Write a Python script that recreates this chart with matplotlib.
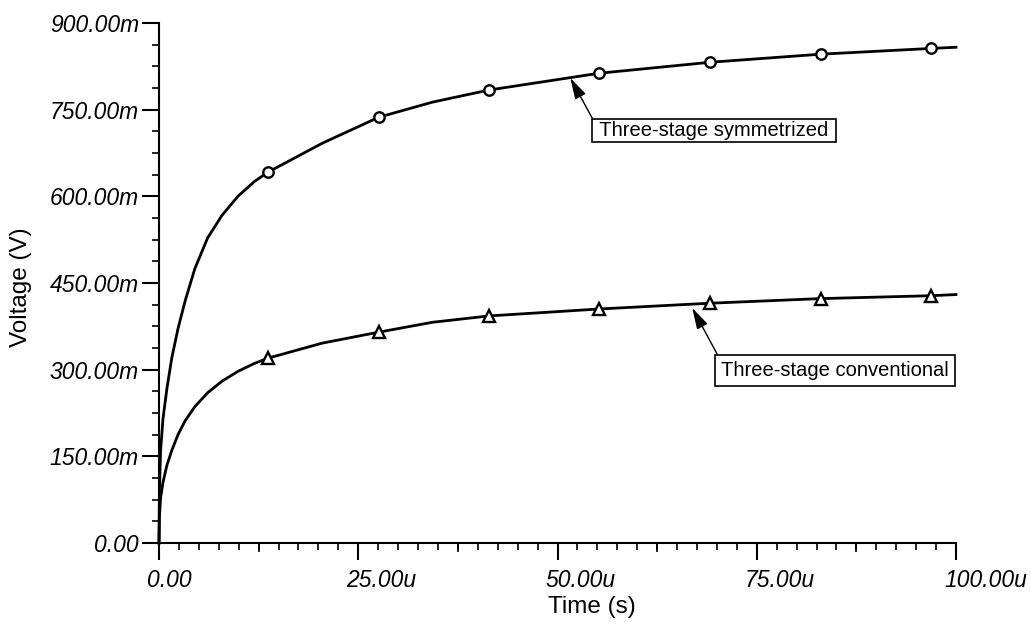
import matplotlib
matplotlib.use("Agg")
import matplotlib.pyplot as plt
from matplotlib.ticker import FixedLocator, MultipleLocator, FuncFormatter
from matplotlib.transforms import ScaledTranslation

# transient response, time in us, voltage in mV
sym_time = [0, 0.05, 0.2, 0.5, 1.0, 1.6, 2.4, 3.3, 4.5, 6.1, 7.9, 9.9, 12.0,
            13.7, 20.5, 27.6, 34.3, 41.4, 55.2, 69.1, 83.0, 96.9, 100]
sym_volt = [0, 90, 160, 215, 268, 320, 372, 420, 475, 528, 567, 600, 626,
            642, 692, 737, 763, 784, 813, 832, 846, 856, 858]

conv_time = [0, 0.05, 0.2, 0.5, 1.0, 1.6, 2.4, 3.3, 4.5, 6.1, 7.9, 9.9, 12.0,
             13.7, 20.5, 27.6, 34.3, 41.4, 55.2, 69.1, 83.0, 96.9, 100]
conv_volt = [0, 45, 78, 105, 135, 160, 188, 212, 236, 260, 280, 297, 311,
             320, 346, 365, 382, 393, 405, 415, 423, 428, 430]

marker_times = [13.7, 27.6, 41.4, 55.2, 69.1, 83.0, 96.9]

x_ticks = [0, 25, 50, 75, 100]
x_mid_ticks = [12.5, 37.5, 62.5, 87.5]
y_ticks = [0, 150, 300, 450, 600, 750, 900]

plt.rcParams["font.family"] = ["Liberation Sans", "DejaVu Sans"]

fig = plt.figure(figsize=(10.31, 6.33), dpi=100)
ax = fig.add_axes([159 / 1031, 90 / 633, 797 / 1031, 520 / 633])

sym_marks = [i for i, t in enumerate(sym_time) if t in marker_times]
conv_marks = [i for i, t in enumerate(conv_time) if t in marker_times]

ax.plot(sym_time, sym_volt, color="black", lw=2.0, marker="o", markevery=sym_marks,
        ms=7.5, mfc="white", mec="black", mew=1.7, clip_on=False, zorder=3)
ax.plot(conv_time, conv_volt, color="black", lw=2.0, marker="^", markevery=conv_marks,
        ms=9, mfc="white", mec="black", mew=1.7, clip_on=False, zorder=3)

ax.set_xlim(0, 100)
ax.set_ylim(0, 900)
for side in ("top", "right"):
    ax.spines[side].set_visible(False)
for side in ("left", "bottom"):
    ax.spines[side].set_linewidth(1.5)

ax.xaxis.set_major_locator(FixedLocator(x_ticks))
ax.yaxis.set_major_locator(FixedLocator(y_ticks))
ax.xaxis.set_minor_locator(MultipleLocator(2.5))
ax.yaxis.set_minor_locator(MultipleLocator(37.5))
ax.xaxis.set_major_formatter(FuncFormatter(lambda v, p: "0.00" if v == 0 else f"{v:.2f}u"))
ax.yaxis.set_major_formatter(FuncFormatter(lambda v, p: "0.00" if v == 0 else f"{v:.2f}m"))

ax.tick_params(which="major", direction="out", length=12.5, width=1.5,
               labelsize=16.5, color="black")
ax.tick_params(which="minor", direction="out", length=5, width=1.2, color="black")
ax.tick_params(axis="x", which="major", pad=6)
ax.tick_params(axis="y", which="major", pad=2)

# slightly longer ticks halfway between the labelled times
ax.vlines(x_mid_ticks, 0, -0.0175, transform=ax.get_xaxis_transform(),
          colors="black", lw=1.2, clip_on=False)

shift = ScaledTranslation(-12 / 100, 0, fig.dpi_scale_trans)
for lab in ax.get_xticklabels():
    lab.set_fontstyle("italic")
    lab.set_horizontalalignment("left")
    lab.set_transform(lab.get_transform() + shift)
for lab in ax.get_yticklabels():
    lab.set_fontstyle("italic")

fig.text(21 / 1031, 1 - 287 / 633, "Voltage (V)", rotation=90, fontsize=17.5,
         ha="center", va="center")
fig.text(592 / 1031, 1 - 607 / 633, "Time (s)", fontsize=17.5, ha="center", va="center")

arrow = dict(arrowstyle="-|>,head_length=0.9,head_width=0.25", color="black", lw=1.0,
             relpos=(0, 1), shrinkA=0, shrinkB=0)
ax.annotate(" Three-stage symmetrized ", xy=(51.6, 805), xytext=(54.55, 730.5),
            ha="left", va="top", fontsize=14.5,
            bbox=dict(boxstyle="square,pad=0.1", fc="white", ec="black", lw=1.2),
            arrowprops=arrow, annotation_clip=False)
ax.annotate("Three-stage conventional", xy=(66.9, 407), xytext=(70.5, 315),
            ha="left", va="top", fontsize=14.5,
            bbox=dict(boxstyle="square,pad=0.3", fc="white", ec="black", lw=1.2),
            arrowprops=arrow, annotation_clip=False)

fig.savefig("out.png", dpi=100)
